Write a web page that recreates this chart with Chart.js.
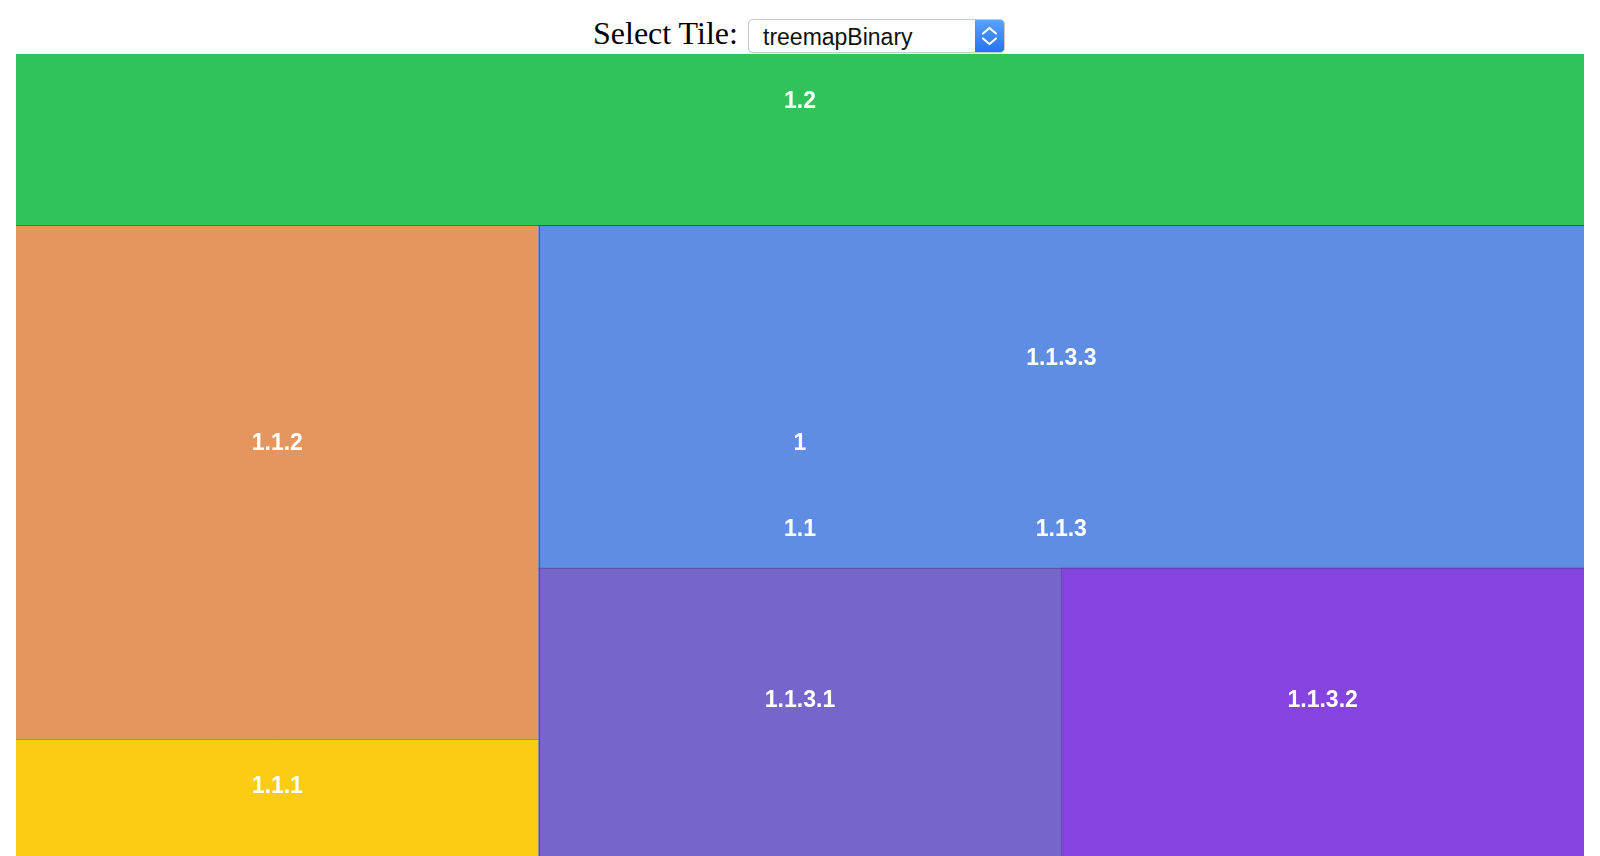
<!DOCTYPE html>
<html><head><meta charset="utf-8">
<script src="https://cdn.jsdelivr.net/npm/chart.js@4.4.1/dist/chart.umd.min.js"></script>
<style>
html,body{margin:0;padding:0;overflow:hidden;background:#fff;width:1600px;height:856px;}
#lbl{position:absolute;left:593px;top:17px;font:32px/32px 'Liberation Serif','Times New Roman',serif;color:#000;white-space:nowrap;}
#sel{position:absolute;left:748px;top:19px;width:257px;height:34px;box-sizing:border-box;border:1px solid #c8c8c8;border-radius:5px;background:#fff;overflow:hidden;box-shadow:0 0.5px 1px rgba(0,0,0,0.08);}
#seltxt{position:absolute;left:14px;top:6px;font:23px/23px 'Liberation Sans',Arial,sans-serif;color:#111;white-space:nowrap;}
#selbtn{position:absolute;right:0;top:0;width:29px;height:32px;background:linear-gradient(#5aa2fb,#2474f2);}
#wrap{position:absolute;left:16px;top:54px;width:1568px;height:856px;}
</style></head>
<body>
<div id="lbl">Select Tile:</div>
<div id="sel"><div id="seltxt">treemapBinary</div>
<div id="selbtn"><svg width="29" height="32" viewBox="0 0 29 32"><polyline points="8,13.5 14.5,8 21,13.5" fill="none" stroke="#fff" stroke-width="2.2" stroke-linecap="round" stroke-linejoin="round"/><polyline points="8,18.5 14.5,24 21,18.5" fill="none" stroke="#fff" stroke-width="2.2" stroke-linecap="round" stroke-linejoin="round"/></svg></div></div>
<div id="wrap"><canvas id="c"></canvas></div>
<script>
// Hierarchy (children listed in order), leaf sizes, colours
const names   = ['1', '1.2', '1.1', '1.1.2', '1.1.1', '1.1.3', '1.1.3.3', '1.1.3.1', '1.1.3.2'];
const parents = [null, '1',  '1',   '1.1',   '1.1',   '1.1',   '1.1.3',   '1.1.3',   '1.1.3'];
const sizes   = [0,    3,    0,     3,       1,       0,       4,         2,         2];
const colors  = ['#5e8de3', '#31c25a', '#5e8de3', '#e5955e', '#facc14', '#5e8de3', '#5e8de3', '#7666cc', '#8544df'];

// build tree
const nodes = names.map((n, i) => ({name: n, parent: parents[i], size: sizes[i], color: colors[i], children: []}));
const byName = {}; nodes.forEach(n => byName[n.name] = n);
nodes.forEach(n => { if (n.parent) byName[n.parent].children.push(n); });
const root = nodes.find(n => !n.parent);
(function setDepth(n, d){ n.depth = d; n.children.forEach(c => setDepth(c, d + 1)); })(root, 0);
(function s(n){ n.value = n.size + n.children.reduce((a, c) => a + s(c), 0); return n.value; })(root);

// binary treemap layout in unit data space
function binary(list, X0, Y0, X1, Y1){
  const n = list.length, sums = [0];
  for (const c of list) sums.push(sums[sums.length - 1] + c.value);
  (function partition(i, j, value, x0, y0, x1, y1){
    if (i >= j - 1){ const nd = list[i]; nd.x0 = x0; nd.y0 = y0; nd.x1 = x1; nd.y1 = y1; return; }
    const valueOffset = sums[i], valueTarget = value / 2 + valueOffset;
    let k = i + 1, hi = j - 1;
    while (k < hi){ const mid = (k + hi) >>> 1; if (sums[mid] < valueTarget) k = mid + 1; else hi = mid; }
    if ((valueTarget - sums[k - 1]) < (sums[k] - valueTarget) && i + 1 < k) --k;
    const valueLeft = sums[k] - valueOffset, valueRight = value - valueLeft;
    if ((x1 - x0) > (y1 - y0)){
      const xk = value ? (x0 * valueRight + x1 * valueLeft) / value : x1;
      partition(i, k, valueLeft, x0, y0, xk, y1); partition(k, j, valueRight, xk, y0, x1, y1);
    } else {
      const yk = value ? (y0 * valueRight + y1 * valueLeft) / value : y1;
      partition(i, k, valueLeft, x0, y0, x1, yk); partition(k, j, valueRight, x0, yk, x1, y1);
    }
  })(0, n, sums[n], X0, Y0, X1, Y1);
}
root.x0 = 0; root.y0 = 0; root.x1 = 1; root.y1 = 1;
(function lay(n){ if (n.children.length){ binary(n.children, n.x0, n.y0, n.x1, n.y1); n.children.forEach(lay); } })(root);

const cells = nodes.slice().sort((a, b) => a.depth - b.depth)
  .map(n => ({x: (n.x0 + n.x1) / 2, y: (n.y0 + n.y1) / 2, x0: n.x0, x1: n.x1, y0: n.y0, y1: n.y1, name: n.name, color: n.color}));

const treemapPlugin = {
  id: 'treemapCells',
  afterDatasetsDraw(chart){
    const ctx = chart.ctx, xs = chart.scales.x, ys = chart.scales.y;
    const data = chart.data.datasets[0].data;
    const eps = 1e-9;
    ctx.save();
    data.forEach(c => {
      const l = xs.getPixelForValue(c.x0), r = xs.getPixelForValue(c.x1);
      const t = ys.getPixelForValue(c.y0), b = ys.getPixelForValue(c.y1);
      ctx.fillStyle = c.color;
      ctx.fillRect(l, t, r - l, b - t);
    });
    // internal cell edges
    ctx.strokeStyle = 'rgba(60,60,100,0.38)';
    ctx.lineWidth = 1;
    data.forEach(c => {
      const l = xs.getPixelForValue(c.x0), r = xs.getPixelForValue(c.x1);
      const t = ys.getPixelForValue(c.y0), b = ys.getPixelForValue(c.y1);
      ctx.beginPath();
      if (c.x0 > eps){ const px = Math.round(l) + 0.5; ctx.moveTo(px, t); ctx.lineTo(px, b); }
      if (c.y0 > eps){ const py = Math.round(t) + 0.5; ctx.moveTo(l, py); ctx.lineTo(r, py); }
      ctx.stroke();
    });
    ctx.fillStyle = '#ffffff';
    ctx.font = 'bold 23px "Liberation Sans", Arial, sans-serif';
    ctx.textAlign = 'center';
    ctx.textBaseline = 'middle';
    data.forEach(c => {
      const cx = xs.getPixelForValue(c.x), cy = ys.getPixelForValue(c.y);
      ctx.fillText(c.name, cx, cy - 38);
    });
    ctx.restore();
  }
};

new Chart(document.getElementById('c'), {
  type: 'scatter',
  data: { datasets: [{ data: cells, pointRadius: 0, pointHoverRadius: 0 }] },
  options: {
    responsive: true, maintainAspectRatio: false, animation: false, events: [],
    layout: { padding: 0 },
    plugins: { legend: { display: false }, tooltip: { enabled: false } },
    scales: {
      x: { type: 'linear', min: 0, max: 1, display: false },
      y: { type: 'linear', min: 0, max: 1, reverse: true, display: false }
    }
  },
  plugins: [treemapPlugin]
});
</script>
</body></html>
